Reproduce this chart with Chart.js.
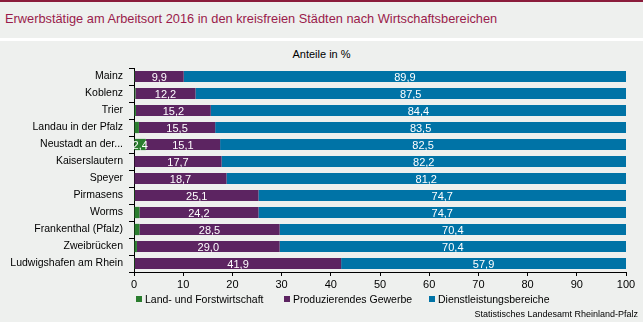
<!DOCTYPE html>
<html>
<head>
<meta charset="utf-8">
<script src="https://cdn.jsdelivr.net/npm/chart.js@4/dist/chart.umd.min.js"></script>
<style>
  html, body { margin: 0; padding: 0; }
  body { width: 643px; height: 322px; background: #eef0ee; position: relative; overflow: hidden; font-family: "Liberation Sans", Arial, sans-serif; }
  #topline { position: absolute; left: 0; top: 0; width: 643px; height: 2px; background: #8b1c3b; }
  #sep { position: absolute; left: 0; top: 38px; width: 643px; height: 3px; background: #ffffff; }
  #title { position: absolute; left: 5px; top: 11px; font-size: 12.8px; color: #9a1b4b; white-space: nowrap; }
  #sub { position: absolute; left: 0; width: 643px; top: 48px; text-align: center; font-size: 11px; color: #000; }
  #src { position: absolute; right: 5px; top: 309px; font-size: 9px; color: #000; white-space: nowrap; }
  #wrap { position: absolute; left: 0; top: 0; width: 643px; height: 322px; }
  .lg { position: absolute; top: 293px; font-size: 10.5px; color: #000; white-space: nowrap; }
  .lg span { display: inline-block; width: 6px; height: 6px; margin-right: 3px; vertical-align: 1px; }
</style>
</head>
<body>
<div id="topline"></div>
<div id="title">Erwerbstätige am Arbeitsort 2016 in den kreisfreien Städten nach Wirtschaftsbereichen</div>
<div id="sep"></div>
<div id="sub">Anteile in %</div>
<div id="wrap"><canvas id="c" width="643" height="322"></canvas></div>
<div id="legend"></div>
<div id="src">Statistisches Landesamt Rheinland-Pfalz</div>
<script>
const categories = ["Mainz", "Koblenz", "Trier", "Landau in der Pfalz", "Neustadt an der...", "Kaiserslautern", "Speyer", "Pirmasens", "Worms", "Frankenthal (Pfalz)", "Zweibrücken", "Ludwigshafen am Rhein"];
const landForst = [0.2, 0.3, 0.4, 1.0, 2.4, 0.1, 0.1, 0.2, 1.1, 1.1, 0.6, 0.2];
const produzierend = [9.9, 12.2, 15.2, 15.5, 15.1, 17.7, 18.7, 25.1, 24.2, 28.5, 29.0, 41.9];
const dienstleistung = [89.9, 87.5, 84.4, 83.5, 82.5, 82.2, 81.2, 74.7, 74.7, 70.4, 70.4, 57.9];
const seriesNames = ["Land- und Forstwirtschaft", "Produzierendes Gewerbe", "Dienstleistungsbereiche"];
const seriesColors = ['#2a7d2e', '#5c2461', '#0073a6'];
const xTicks = [0, 10, 20, 30, 40, 50, 60, 70, 80, 90, 100];

const FONT = "'Liberation Sans', Arial, sans-serif";

// HTML legend
const legendX = [136, 284, 429];
const lgRoot = document.getElementById('legend');
seriesNames.forEach((n, i) => {
  const d = document.createElement('div');
  d.className = 'lg';
  d.style.left = legendX[i] + 'px';
  const s = document.createElement('span');
  s.style.background = seriesColors[i];
  d.appendChild(s);
  d.appendChild(document.createTextNode(n));
  lgRoot.appendChild(d);
});

const labelPlugin = {
  id: 'barLabels',
  afterDatasetsDraw(chart) {
    const ctx = chart.ctx;
    ctx.save();
    ctx.font = "11px " + FONT;
    ctx.fillStyle = '#ffffff';
    ctx.textAlign = 'center';
    ctx.textBaseline = 'middle';
    chart.data.datasets.forEach((ds, di) => {
      const meta = chart.getDatasetMeta(di);
      meta.data.forEach((bar, i) => {
        const v = ds.data[i];
        if (v < 2) return;
        const x = (bar.x + bar.base) / 2;
        ctx.fillText(v.toFixed(1).replace('.', ','), x, bar.y + 1);
      });
    });
    ctx.restore();
  }
};

new Chart(document.getElementById('c'), {
  type: 'bar',
  data: {
    labels: categories,
    datasets: seriesNames.map((n, i) => ({
      label: n,
      data: [landForst, produzierend, dienstleistung][i],
      backgroundColor: seriesColors[i]
    }))
  },
  options: {
    indexAxis: 'y',
    responsive: false,
    animation: false,
    events: [],
    categoryPercentage: 0.66,
    barPercentage: 1.0,
    layout: { padding: { top: 68, right: 17, bottom: 30, left: 0 } },
    plugins: {
      legend: { display: false },
      tooltip: { enabled: false }
    },
    scales: {
      x: {
        stacked: true,
        min: 0, max: 100,
        afterBuildTicks(scale) { scale.ticks = xTicks.map(v => ({ value: v })); },
        afterFit(scale) { scale.height = 20; },
        ticks: { font: { size: 11, family: FONT }, color: '#000', padding: 2, maxRotation: 0 },
        grid: { drawOnChartArea: false, drawTicks: true, tickLength: 4, color: '#000' },
        border: { color: '#000', width: 1 }
      },
      y: {
        stacked: true,
        afterFit(scale) { scale.width = 134; },
        ticks: { font: { size: 10.5, family: FONT }, color: '#000', padding: 6, autoSkip: false },
        grid: { drawOnChartArea: false, drawTicks: true, tickLength: 5, offset: true, color: '#000' },
        border: { color: '#000', width: 1 }
      }
    }
  },
  plugins: [labelPlugin]
});
</script>
</body>
</html>
